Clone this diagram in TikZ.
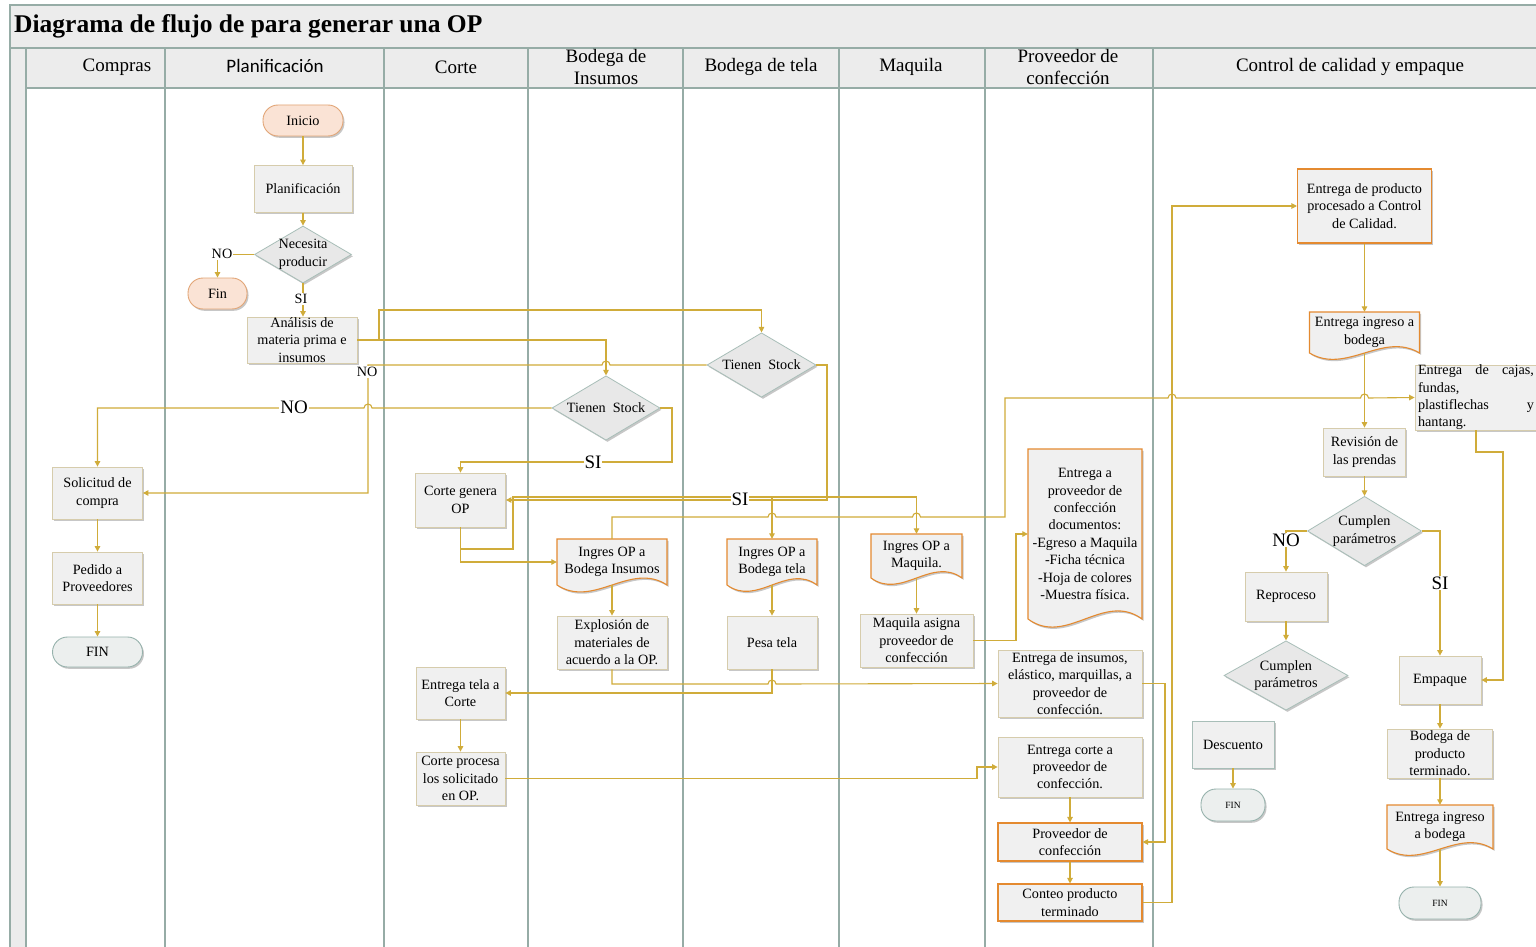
\documentclass[tikz,border=0pt]{standalone}
\usepackage{fontspec}
\setmainfont{Liberation Serif}
\newfontfamily\hsans{Carlito}
\usetikzlibrary{shapes.geometric,arrows.meta,shadows,calc}
\definecolor{linec}{RGB}{208,172,58}
\definecolor{lanec}{RGB}{150,172,166}
\definecolor{hdrfill}{RGB}{236,236,236}
\definecolor{boxf}{RGB}{240,240,240}
\definecolor{tanc}{RGB}{214,204,172}
\definecolor{orgc}{RGB}{228,138,48}
\definecolor{diaf}{RGB}{232,232,232}
\definecolor{diab}{RGB}{168,190,184}
\definecolor{peachf}{RGB}{250,227,213}
\definecolor{peachb}{RGB}{226,165,118}
\definecolor{termf}{RGB}{236,239,238}
\definecolor{termb}{RGB}{150,178,172}
\newcommand\bodyf{\fontsize{14.2}{17.4}\selectfont}
\newcommand\hdrfont{\fontsize{19}{22}\selectfont}
\newcommand\lblbig{\fontsize{19}{20}\selectfont}
\newcommand\smallfin{\fontsize{9.5}{11}\selectfont}
% name, cx, cy, w, h, wave, text
\newcommand\docnode[7]{%
  \path[docshape] ({#2-#4/2},{#3-#5/2}) -- ({#2+#4/2},{#3-#5/2}) -- ({#2+#4/2},{#3+#5/2})
    .. controls ({#2+#4/6},{#3+#5/2-#6}) and ({#2-#4/6},{#3+#5/2+#6}) .. ({#2-#4/2},{#3+#5/2}) -- cycle;
  \node[doctext, minimum width=#4, minimum height=#5] (#1) at (#2,#3) {#7};
}
\begin{document}
\begin{tikzpicture}[x=1pt,y=-1pt,
  shad/.style={drop shadow={shadow xshift=1.5pt,shadow yshift=-1.8pt,opacity=0.22,fill=black}},
  nbase/.style={font=\bodyf, align=center, inner xsep=2pt, inner ysep=-1.5pt},
  proc/.style={nbase, rectangle, draw=tanc, fill=boxf, line width=0.8pt, shad},
  procO/.style={proc, draw=orgc, line width=1.1pt},
  procG/.style={proc, draw=diab},
  dia/.style={nbase, diamond, draw=diab, fill=diaf, line width=0.8pt, inner sep=-6pt, shad},
  termP/.style={nbase, rectangle, rounded corners=15pt, draw=peachb, fill=peachf, line width=0.9pt, shad},
  termG/.style={nbase, rectangle, rounded corners=15pt, draw=termb, fill=termf, line width=0.9pt, shad},
  docshape/.style={draw=orgc, fill=boxf, line width=1.1pt, shad},
  doctext/.style={nbase, rectangle},
  sz/.style 2 args={minimum width=#1, minimum height=#2},
  conn/.style={draw=linec, line width=1.1pt, -{Triangle[width=5.5pt,length=5.5pt]}},
  lblS/.style={font=\bodyf, fill=white, inner sep=1pt},
  lblL/.style={font=\lblbig, fill=white, inner sep=1pt},
  hdr/.style={font=\hdrfont, align=center, inner sep=0pt},
  laneline/.style={draw=lanec, line width=1.1pt}
]
\useasboundingbox (0,0) rectangle (1536,947);
\fill[white] (0,0) rectangle (1536,947);
% ---- frame and lanes
\fill[hdrfill] (10,5) rectangle (1545,88);
\fill[hdrfill] (10,88) rectangle (26,947);
\draw[laneline] (10,947) -- (10,5) -- (1545,5);
\draw[laneline] (10,48) -- (1545,48);
\draw[laneline] (26,88) -- (1545,88);
\foreach \lx in {26,165,384,528,683,839,985,1153} {\draw[laneline] (\lx,48) -- (\lx,947);}
\node[anchor=west, font=\fontsize{25.5}{30}\selectfont\bfseries, inner sep=0pt] (title) at (14,26) {Diagrama de flujo de para generar una OP};
\node[hdr] (h1) at (117,67) {Compras};
\node[hdr, font=\hdrfont\hsans] (h2) at (275,66) {Planificación};
\node[hdr] (h3) at (456,67) {Corte};
\node[hdr] (h4) at (606,67) {Bodega de\\Insumos};
\node[hdr] (h5) at (761,67) {Bodega de tela};
\node[hdr] (h6) at (911,67) {Maquila};
\node[hdr] (h7) at (1068,67) {Proveedor de\\confección};
\node[hdr] (h8) at (1350,67) {Control de calidad y empaque};
% ---- nodes
\node[termP, sz={80}{31}] (inicio) at (303,120.5) {Inicio};
\node[proc, sz={98}{47}] (plan) at (303,189) {Planificación};
\node[dia, sz={97}{57}] (nec) at (303,254.5) {Necesita\\producir};
\node[termP, sz={59}{31}] (fin) at (217.5,293.5) {Fin};
\node[proc, sz={110}{46}] (anal) at (302,340) {Análisis de\\materia prima e\\insumos};
\node[dia, sz={108}{64}] (stI) at (606,408) {Tienen~~Stock};
\node[dia, sz={109}{64}] (stT) at (761.5,365) {Tienen~~Stock};
\node[proc, sz={90}{52}] (sol) at (97.5,493) {Solicitud de\\compra};
\node[proc, sz={90}{52}] (ped) at (97.5,578) {Pedido a\\Proveedores};
\node[termG, sz={90}{30}] (finC) at (97.5,652) {FIN};
\node[proc, sz={90}{54}] (cgop) at (460.5,500) {Corte genera\\OP};
\docnode{docIns}{612}{562}{110}{46}{24}{Ingres OP a\\Bodega Insumos}
\docnode{docTela}{772}{562}{90}{46}{22}{Ingres OP a\\Bodega tela}
\docnode{docMaq}{916.5}{556}{91}{44}{22}{Ingres OP a\\Maquila.}
\node[proc, sz={110}{53}] (expl) at (612,642.5) {Explosión de\\materiales de\\acuerdo a la OP.};
\node[proc, sz={90}{53}] (pesa) at (772,642.5) {Pesa tela};
\node[proc, sz={113}{53}] (masig) at (916.5,640.5) {Maquila asigna\\proveedor de\\confección};
\docnode{docEnt}{1085}{534}{114}{170}{28}{Entrega a\\proveedor de\\confección\\documentos:\\-Egreso a Maquila\\-Ficha técnica\\-Hoja de colores\\-Muestra física.}
\node[proc, sz={144}{67}] (entIns) at (1070,683.5) {Entrega de insumos,\\elástico, marquillas, a\\proveedor de\\confección.};
\node[proc, sz={89}{52}] (entTela) at (460.5,693) {Entrega tela a\\Corte};
\node[proc, sz={89}{53}] (cproc) at (460.5,778.5) {Corte procesa\\los solicitado\\en OP.};
\node[proc, sz={144}{60}] (entCorte) at (1070,767) {Entrega corte a\\proveedor de\\confección.};
\node[procO, sz={144}{38}] (prov) at (1070,842) {Proveedor de\\confección};
\node[procO, sz={144}{37}] (conteo) at (1070,902.5) {Conteo producto\\terminado};
\node[procO, sz={134}{74}] (entProd) at (1364.5,206) {Entrega de producto\\procesado a Control\\de Calidad.};
\docnode{docBod1}{1364.5}{332.5}{110}{41}{22}{Entrega ingreso a\\bodega}
\node[proc, sz={122}{65}, text width=116pt, align=left, inner xsep=3pt] (cajas) at (1476,397.5) {Entrega\hfill de\hfill cajas,\\fundas,\\plastiflechas\hfill y\\hantang.};
\node[proc, sz={82}{48}] (rev) at (1364.5,452) {Revisión de\\las prendas};
\node[dia, sz={114}{64}] (cum1) at (1364.5,531) {Cumplen\\parámetros};
\node[proc, sz={82}{49}] (rep) at (1286,596.5) {Reproceso};
\node[dia, sz={124}{67}] (cum2) at (1286,675.5) {Cumplen\\parámetros};
\node[procG, sz={82}{47}] (desc) at (1233,744.5) {Descuento};
\node[termG, sz={64}{32}, font=\smallfin] (finS) at (1233,805) {FIN};
\node[proc, sz={82}{48}] (emp) at (1440,680) {Empaque};
\node[proc, sz={105}{49}] (bpt) at (1440,753.5) {Bodega de\\producto\\terminado.};
\docnode{docBod2}{1440}{827}{106}{44}{22}{Entrega ingreso\\a bodega}
\node[termG, sz={82}{32}, font=\smallfin] (finB) at (1440,903) {FIN};
% ---- connectors
\draw[conn] (inicio) -- (plan);
\draw[conn] (plan) -- (nec);
\draw[conn] (nec.west) -| (fin.north);
\node[lblS] (lno1) at (222,254) {NO};
\draw[conn] (nec.south) -- (nec.south |- anal.north);
\node[lblS] (lsi1) at (301,299) {SI};
\draw[conn] (anal.east) -- (379,340) -- (379,310) -| (stT.north);
\draw[conn] (anal.east) -| (stI.north);
\draw[conn] (stT.west) -- (610,365) arc[start angle=0,end angle=180,radius=4pt] -- (368,365) -- (368,493) -- (sol.east);
\node[lblS] (lno2) at (367,372) {NO};
\draw[conn] (stI.west) -- (372,408) arc[start angle=0,end angle=180,radius=4pt] -| (sol.north);
\node[lblL] (lno3) at (294,407) {NO};
\draw[conn] (stI.east) -- (672,408) -- (672,462) -| (cgop.north);
\node[lblL] (lsi2) at (593,462) {SI};
\draw[conn] (stT.east) -- (827,365) -- (827,500) -- (cgop.east);
\draw[conn] (cgop.south) -- (460.5,549) -- (513,549) -- (513,497) -| (docMaq.north);
\draw[conn] (772,497) -- (docTela.north);
\node[lblL] (lsi3) at (740,499) {SI};
\draw[conn] (cgop.south) |- (docIns.west);
\draw[conn] (docIns.north) -- (612,517) -- (768,517) arc[start angle=180,end angle=0,radius=4pt]
  -- (912.5,517) arc[start angle=180,end angle=0,radius=4pt] -- (1005,517) -- (1005,398)
  -- (1168,398) arc[start angle=180,end angle=0,radius=4pt]
  -- (1360.5,398) arc[start angle=180,end angle=0,radius=4pt] -- (cajas.west);
\draw[conn] (docIns.south) -- (expl.north);
\draw[conn] (expl.south) -- (612,684) -- (768,684) arc[start angle=180,end angle=0,radius=4pt] -- (entIns.west);
\draw[conn] (docTela.south) -- (pesa.north);
\draw[conn] (pesa.south) -- (772,693) -- (entTela.east);
\draw[conn] (entTela) -- (cproc);
\draw[conn] (cproc.east) -- (977,778.5) -- (977,767) -- (entCorte.west);
\draw[conn] (docMaq.south) -- (masig.north);
\draw[conn] (masig.east) -- (1016,640.5) |- (docEnt.west);
\draw[conn] (entIns.east) -- (1165,683.5) |- (prov.east);
\draw[conn] (entCorte) -- (prov);
\draw[conn] (prov) -- (conteo);
\draw[conn] (conteo.east) -- (1172,902.5) |- (entProd.west);
\draw[conn] (entProd.south) -- (docBod1.north);
\draw[conn] (docBod1.south) -- (rev.north);
\draw[conn] (cajas.south) -- (1476,452) -- (1503,452) |- (emp.east);
\draw[conn] (rev) -- (cum1);
\draw[conn] (cum1.west) -| (rep.north);
\node[lblL] (lno4) at (1286,540) {NO};
\draw[conn] (cum1.east) -| (emp.north);
\node[lblL] (lsi4) at (1440,583) {SI};
\draw[conn] (rep) -- (cum2);
\draw[conn] (desc) -- (finS);
\draw[conn] (emp) -- (bpt);
\draw[conn] (bpt) -- (docBod2.north);
\draw[conn] (docBod2.south) -- (finB.north);
\draw[conn] (sol) -- (ped);
\draw[conn] (ped) -- (finC);
\end{tikzpicture}
\end{document}
